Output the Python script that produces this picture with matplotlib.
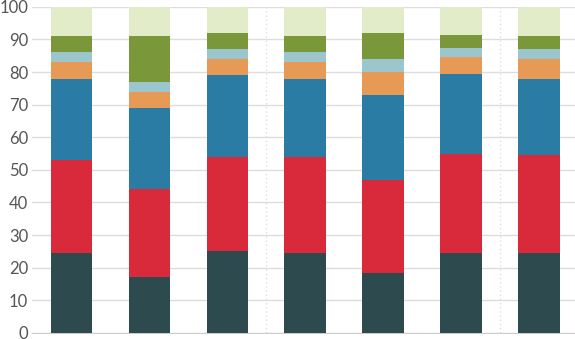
import numpy as np
from matplotlib import pyplot as plt

# stacked shares per bar (each list = one segment, bottom to top)
bars = np.arange(7)
seg_dark = [24.5, 17, 25, 24.5, 18.5, 24.5, 24.5]
seg_red = [28.5, 27, 29, 29.5, 28.5, 30.5, 30]
seg_blue = [25, 25, 25, 24, 26, 24.5, 23.5]
seg_orange = [5, 5, 5, 5, 7, 5, 6]
seg_lightblue = [3, 3, 3, 3, 4, 3, 3]
seg_green = [5, 14, 5, 5, 8, 4, 4]
seg_pale = [9, 9, 8, 9, 8, 9, 9]

segments = [seg_dark, seg_red, seg_blue, seg_orange, seg_lightblue, seg_green, seg_pale]
colors = ['#2d4a4e', '#d82a3b', '#2a7ca4', '#e69a56', '#9cc6ce', '#7a983a', '#e3ecc9']

plt.rcParams['font.family'] = ['Lato', 'DejaVu Sans']

fig = plt.figure(figsize=(5.75, 3.39), dpi=100)
ax = fig.add_axes([0.056, 0.018, 0.944, 0.962])

bottom = np.zeros(len(bars))
for seg, col in zip(segments, colors):
    ax.bar(bars, seg, bottom=bottom, width=0.53, color=col, zorder=3)
    bottom += np.array(seg)

ax.set_ylim(0, 100)
ax.set_xlim(-0.5, 6.46)
ax.set_yticks(range(0, 101, 10))
ax.yaxis.grid(True, color='#dddddd', linewidth=1, zorder=0)
for xs in [2.5, 5.5]:
    ax.axvline(xs, color='#dddddd', linestyle=(0, (1, 2)), linewidth=1, zorder=1)

ax.set_xticks([])
ax.tick_params(axis='y', length=0, labelsize=12, labelcolor='#555555', pad=3)
for s in ['top', 'right', 'left']:
    ax.spines[s].set_visible(False)
ax.spines['bottom'].set_color('#cccccc')

plt.savefig('out.png', dpi=100)
plt.close()
